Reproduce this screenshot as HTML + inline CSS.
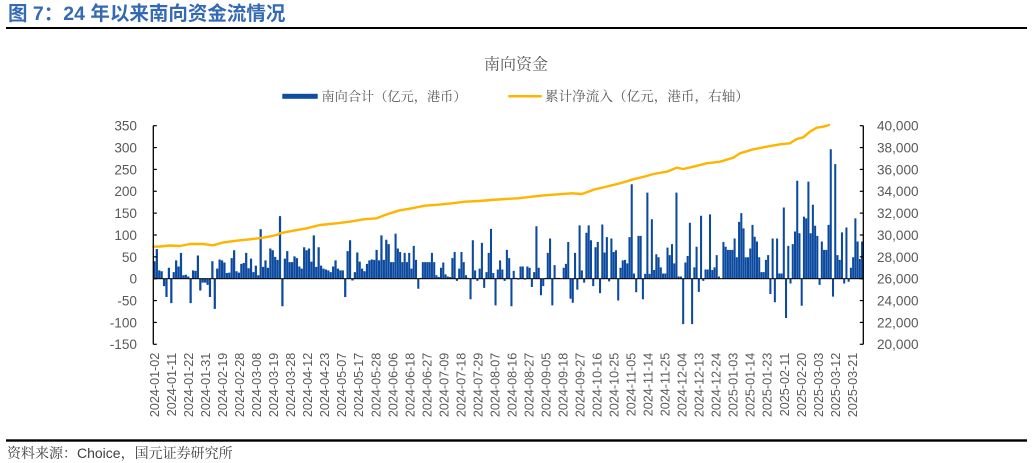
<!DOCTYPE html>
<html><head><meta charset="utf-8">
<style>
html,body{margin:0;padding:0;background:#fff;}
body{width:1032px;height:463px;overflow:hidden;position:relative;}
svg{position:absolute;left:0;top:0;}
</style></head><body>
<svg id="c" width="1032" height="463" viewBox="0 0 1032 463" xmlns="http://www.w3.org/2000/svg">
<text x="8" y="20" font-family="Liberation Sans, Noto Sans CJK SC, sans-serif" font-weight="bold" font-size="19.5" fill="#3469B3">图 7：24 年以来南向资金流情况</text>
<rect x="6" y="27" width="1021" height="2" fill="#000"/>
<text x="516" y="69.5" text-anchor="middle" font-family="Noto Serif CJK SC, serif" font-size="16" fill="#595959">南向资金</text>
<rect x="282.3" y="93.8" width="35.4" height="5" fill="#0E4DA1"/>
<text x="321.5" y="101" font-family="Noto Serif CJK SC, serif" font-size="13.2" fill="#595959">南向合计（亿元，港币）</text>
<rect x="508.3" y="95" width="33.4" height="2.5" fill="#FFB400"/>
<text x="545" y="101" font-family="Noto Serif CJK SC, serif" font-size="13.6" fill="#595959">累计净流入（亿元，港币，右轴）</text>
<rect x="6" y="439.3" width="1021" height="2.4" fill="#000"/>
<text x="7" y="458" font-family="Liberation Sans, Noto Serif CJK SC, serif" font-size="14" fill="#404040">资料来源：Choice，国元证券研究所</text>
</svg>
<script>
const NS="http://www.w3.org/2000/svg";
const svg=document.getElementById('c');
function el(tag,attrs,text){const e=document.createElementNS(NS,tag);for(const k in attrs)e.setAttribute(k,attrs[k]);if(text!=null)e.textContent=text;svg.appendChild(e);return e;}
const X0=153.3,X1=863.3,Y0=278.7,K=0.4372,YT=125.7,YB=344.3;
const A=[40,68,19,17,-17,-42,25,-56,15,42,28,59,8,9,5,-56,19,18,53,-27,-9,-9,-14,-42,40,-69,
23,44,42,37,13,14,47,65,17,14,34,36,59,24,46,15,30,8,
113,27,42,25,69,65,50,43,143,-63,
46,63,38,38,51,47,28,23,72,65,69,39,99,27,72,30,23,21,19,15,28,42,23,19,19,-42,
63,88,-4,15,60,39,23,17,34,42,44,43,66,42,99,43,89,79];
const B=[38,38,103,69,61,38,59,38,59,23,75,43,-23,2,38,38,38,38,59,38,8,4,25,37,10,5,4,47,61,-5,23,61,38,8,2,-47,88,19,-5,23,82,-21,15,59,114,13,-61,21,42,21,-5,66,47,-63,18,2,-2,28,28,-2,28,25,-19,15,120,25,-38,-17,2,59,92,-61,31,2,2,0,25,34,84,-46,-55,59,-25,122,19,-9,105,122,88,-17,72,84,-33,124,60,95,-6,92,61,65,-50,25,42];
const C=[43,35,95,216,12,-31,98,98,-47,11,
197,11,136,20,56,49,26,12,12,71,
54,79,35,197,5,5,-104,37,52,128,
-104,26,73,-30,144,-5,21,21,147,20,
26,54,5,0,84,73,66,66,66,92,
49,130,150,115,49,49,69,123,96,85,
49,15,15,43,54,-35,92,-54,92,12,
12,163,-90,75,-11,79,108,224,104,-62,
142,138,222,104,169,121,98,-14,85,66,
66,123,296,-41,262,54,43,106,-11,117,
-7,25,49,138,85,45,85];
const segs=[[153.3,390,A],[390,624,B],[624,863.3,C]];
let d='';
segs.forEach(([a,b,v])=>{const w=(b-a)/v.length;const bw=w-0.2;v.forEach((val,i)=>{if(!val)return;const x=a+i*w;const h=Math.abs(val)*K;const y=val>0?Y0-h:Y0;d+='M'+x.toFixed(2)+' '+y.toFixed(2)+'h'+bw.toFixed(2)+'v'+h.toFixed(2)+'h'+(-bw).toFixed(2)+'z';});});
el('path',{d:d,fill:'#0C4A9F'});
el('rect',{x:X0,y:Y0-0.5,width:X1-X0,height:1,fill:'#000'});
const pts=[[153.3,246.7],[160,246.5],[170,245.5],[180,246],[190,244],[203,244],[213,245.3],[223,242.5],[236.7,240.7],[250,239.3],[263.3,237.7],[276.7,235],[280,233.3],[293.3,230.7],[306.7,228.3],[320,225],[336.7,223.3],[350,221.7],[363.3,219.3],[376.7,218.3],[385,215],[398.3,210.7],[411.7,208.3],[425,205.7],[438.3,204.7],[451.7,203.3],[465,201.7],[478.3,201],[491.7,200],[505,199],[518.3,198.3],[531.7,196.7],[545,195.3],[558.3,194.3],[571.7,193.3],[581.7,194],[588.3,191.7],[595,189.3],[605,187],[620,183.3],[633.3,179.3],[646.7,176],[653.3,174],[666.7,171.7],[676.7,167.7],[683.3,169],[693.3,166.7],[706.7,163.3],[720,161.7],[733.3,157.7],[740,153.3],[753.3,149.3],[766.7,146.7],[780,144.3],[790,143.3],[796.7,139],[803.3,137.3],[810,131.7],[816.7,127.7],[823.3,126.7],[829,125]];
el('polyline',{points:pts.map(p=>p.join(',')).join(' '),fill:'none',stroke:'#FFB400','stroke-width':2.4,'stroke-linejoin':'round','stroke-linecap':'round'});
el('rect',{x:X0-0.65,y:YT,width:1.3,height:YB-YT,fill:'#000'});
el('rect',{x:X1-0.65,y:YT,width:1.3,height:YB-YT,fill:'#000'});
const step=(YB-YT)/10;
for(let i=0;i<=10;i++){
  const y=YT+i*step;
  el('rect',{x:X0,y:y-0.6,width:3.5,height:1.2,fill:'#000'});
  el('rect',{x:X1-3.5,y:y-0.6,width:3.5,height:1.2,fill:'#000'});
  el('text',{x:137,y:(y+4.9).toFixed(2),'text-anchor':'end','font-family':'Liberation Sans, sans-serif','font-size':13.6,fill:'#595959'},String(350-50*i));
  const rv=40000-2000*i;
  el('text',{x:877,y:(y+4.9).toFixed(2),'font-family':'Liberation Sans, sans-serif','font-size':13.6,fill:'#595959'},rv.toLocaleString('en-US'));
}
const labels=["2024-01-02","2024-01-11","2024-01-22","2024-01-31","2024-02-19","2024-02-28","2024-03-08","2024-03-19","2024-03-28","2024-04-12","2024-04-23","2024-05-07","2024-05-17","2024-05-28","2024-06-06","2024-06-18","2024-06-27","2024-07-09","2024-07-18","2024-07-29","2024-08-07","2024-08-16","2024-08-27","2024-09-05","2024-09-18","2024-09-27","2024-10-16","2024-10-25","2024-11-05","2024-11-14","2024-11-25","2024-12-04","2024-12-13","2024-12-24","2025-01-03","2025-01-14","2025-01-23","2025-02-11","2025-02-20","2025-03-03","2025-03-12","2025-03-21"];
const bw=710/292;
labels.forEach((t,k)=>{
  const cx=X0+(7*k+0.5)*bw;
  const bx=cx+4.5, by=352.7;
  el('text',{x:bx.toFixed(2),y:by,'text-anchor':'end',transform:'rotate(-90 '+bx.toFixed(2)+' '+by+')','font-family':'Liberation Sans, sans-serif','font-size':12.6,fill:'#595959'},t);
});
</script>
</body></html>
